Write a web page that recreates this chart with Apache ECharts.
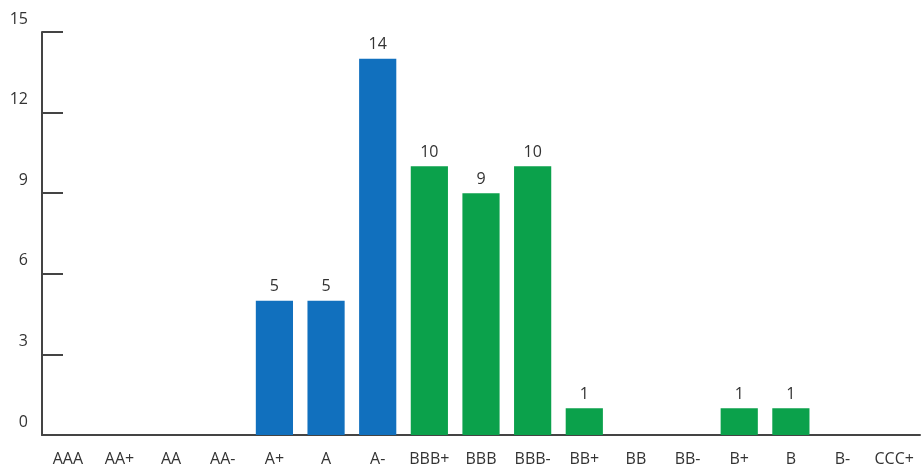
<!DOCTYPE html>
<html>
<head>
<meta charset="utf-8">
<script src="https://cdn.jsdelivr.net/npm/echarts@6/dist/echarts.min.js"></script>
<style>
  html, body { margin: 0; padding: 0; background: #fff; }
  #chart { width: 922px; height: 468px; }
</style>
</head>
<body>
<div id="chart"></div>
<script>
// ratings on the x axis
var ratings = ['AAA', 'AA+', 'AA', 'AA-', 'A+', 'A', 'A-', 'BBB+', 'BBB', 'BBB-', 'BB+', 'BB', 'BB-', 'B+', 'B', 'B-', 'CCC+'];
// number of issuers per rating
var counts = [0, 0, 0, 0, 5, 5, 14, 10, 9, 10, 1, 0, 0, 1, 1, 0, 0];
// ratings drawn in blue, everything else green
var blueRatings = ['AAA', 'AA+', 'AA', 'AA-', 'A+', 'A', 'A-'];

var blue = '#1170be';
var green = '#0ba14b';
var axisColor = '#444';
var textColor = '#333';

var barData = counts.map(function (v, i) {
  return {
    value: v,
    itemStyle: { color: blueRatings.indexOf(ratings[i]) >= 0 ? blue : green },
    label: { show: v > 0 }
  };
});

var chart = echarts.init(document.getElementById('chart'));
var option = {
  animation: false,
  grid: { left: 42, right: 2, top: 32, bottom: 33 },
  xAxis: {
    type: 'category',
    data: ratings,
    axisLine: { lineStyle: { color: axisColor, width: 2 } },
    axisTick: { inside: true, length: 8, lineStyle: { color: axisColor, width: 2 } },
    axisLabel: {
      color: textColor,
      fontFamily: 'Open Sans',
      fontSize: 16,
      margin: 16,
      interval: 0
    }
  },
  yAxis: {
    type: 'value',
    min: 0,
    max: 15,
    interval: 3,
    splitLine: { show: false },
    axisLine: { show: true, lineStyle: { color: axisColor, width: 2 } },
    axisTick: { show: true, inside: true, length: 21, lineStyle: { color: axisColor, width: 2 } },
    axisLabel: {
      color: textColor,
      fontFamily: 'Open Sans',
      fontSize: 16,
      margin: 14,
      verticalAlign: 'bottom',
      padding: [0, 0, 5, 0]
    }
  },
  series: [
    {
      type: 'bar',
      data: barData,
      barWidth: '72%',
      label: {
        show: true,
        position: 'top',
        distance: 6,
        color: textColor,
        fontFamily: 'Open Sans',
        fontSize: 16
      }
    }
  ]
};
chart.setOption(option);
</script>
</body>
</html>
